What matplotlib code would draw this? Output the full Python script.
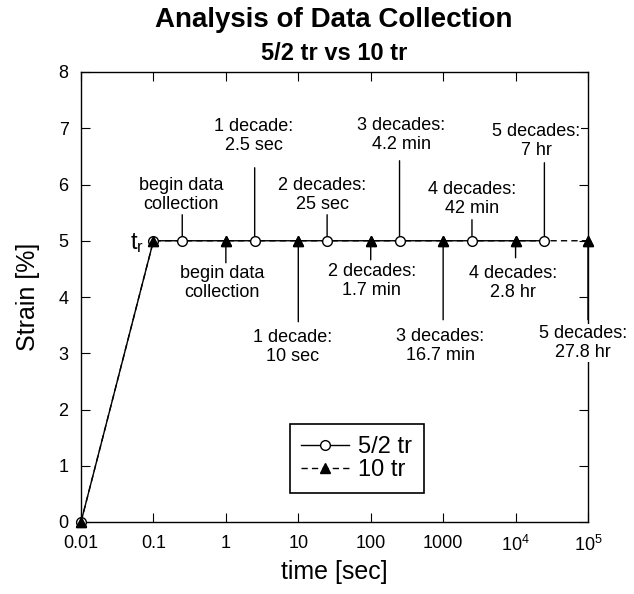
import numpy as np
import matplotlib
matplotlib.use("Agg")
import matplotlib.pyplot as plt

plt.rcParams['font.family'] = ['Liberation Sans', 'DejaVu Sans']
plt.rcParams['mathtext.default'] = 'regular'

# series: 5/2 tr (open circles) and 10 tr (filled triangles)
t_52 = [0.01, 0.1, 0.25, 2.5, 25, 250, 2500, 25000]
strain_52 = [0, 5, 5, 5, 5, 5, 5, 5]
t_10 = [0.01, 0.1, 1, 10, 100, 1000, 10000, 100000]
strain_10 = [0, 5, 5, 5, 5, 5, 5, 5]

labels_52 = ["begin data\ncollection", "1 decade:\n2.5 sec", "2 decades:\n25 sec",
             "3 decades:\n4.2 min", "4 decades:\n42 min", "5 decades:\n7 hr"]
labels_10 = ["begin data\ncollection", "1 decade:\n10 sec", "2 decades:\n1.7 min",
             "3 decades:\n16.7 min", "4 decades:\n2.8 hr", "5 decades:\n27.8 hr"]

xtick_vals = [0.01, 0.1, 1, 10, 100, 1000, 1e4, 1e5]
xtick_labels = ['0.01', '0.1', '1', '10', '100', '1000',
                r'$\mathregular{10^4}$', r'$\mathregular{10^5}$']

# label layout, pixel offsets from marker: (text dx, text dy, leader end dy)
lay_52 = [(-1, 46, 26), (-1, 105, 73), (-5, 46, 26), (2, 106, 80), (0, 42, 21), (-8, 100, 78)]
lay_10 = [(-4, -42, -22), (-6, -106, -81), (1, -40, -19), (-3, -105, -79), (-3, -42, -17), (-5, -102, -79)]

fig = plt.figure(figsize=(6.34, 5.94), dpi=100)
ax = fig.add_axes([81/634, 1 - 522/594, 507/634, 450/594])

ax.plot(t_10, strain_10, color='black', lw=1.0, dashes=(4.5, 3),
        marker='^', ms=7.5, mfc='black', mec='black', clip_on=False,
        zorder=3, label='10 tr')
ax.plot(t_52, strain_52, color='black', lw=1.0, marker='o', ms=7,
        mfc='white', mec='black', mew=1.0, clip_on=False, zorder=4, label='5/2 tr')
# triangles on top of circles at shared points
ax.plot(t_10, strain_10, ls='none', marker='^', ms=7.5, mfc='black', mec='black',
        clip_on=False, zorder=5)

ax.set_xscale('log')
ax.set_xlim(0.01, 1e5)
ax.set_ylim(0, 8)
ax.set_xticks(xtick_vals, xtick_labels)
ax.minorticks_off()
ax.set_yticks(range(0, 9))
ax.tick_params(direction='in', length=6.5, width=0.8, labelsize=13, pad=9,
               top=True, right=True)
for s in ax.spines.values():
    s.set_linewidth(1.0)

ax.set_xlabel('time [sec]', fontsize=18, labelpad=4)
ax.set_ylabel('Strain [%]', fontsize=18, labelpad=13)

def label_points(ts, ys, labels, layout):
    for t, y, lab, (dx, dy, ly) in zip(ts, ys, labels, layout):
        ax.annotate('', xy=(t, y), xytext=(0, ly), textcoords='offset pixels',
                    arrowprops=dict(arrowstyle='-', lw=1.0, color='black',
                                    shrinkA=0, shrinkB=0), zorder=2)
        ax.annotate(lab, xy=(t, y), xytext=(dx, dy), textcoords='offset pixels',
                    ha='center', va='center', fontsize=13, linespacing=1.15,
                    bbox=dict(boxstyle='square,pad=0.05', fc='white', ec='none'),
                    zorder=6)

label_points(t_52[2:], strain_52[2:], labels_52, lay_52)
label_points(t_10[2:], strain_10[2:], labels_10, lay_10)

ax.annotate(r't$_r$', xy=(t_52[1], strain_52[1]), xytext=(-9, -2),
            textcoords='offset pixels', ha='right', va='center', fontsize=17)

h, l = ax.get_legend_handles_labels()
leg = ax.legend(h[::-1], l[::-1], loc='center', bbox_to_anchor=(0.544, 0.141),
                fontsize=17, handlelength=2.0, labelspacing=0.05, handletextpad=0.4,
                borderpad=0.5, fancybox=False, framealpha=1, edgecolor='black')
leg.get_frame().set_linewidth(1.2)

fig.text(334/634, 1 - 20/594, 'Analysis of Data Collection', ha='center', va='center',
         fontsize=20, fontweight='bold')
fig.text(334/634, 1 - 54/594, '5/2 tr vs 10 tr', ha='center', va='center',
         fontsize=17, fontweight='bold')

fig.savefig('out.png', dpi=100)
